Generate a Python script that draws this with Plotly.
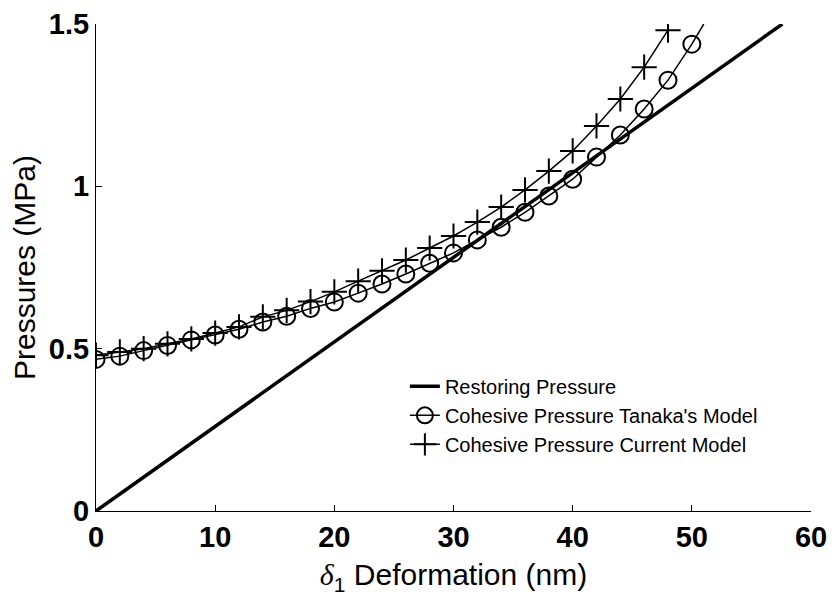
import plotly.graph_objects as go

# Data
restoring_x = [0, 57.6]
restoring_y = [0, 1.5]

tanaka_x = [0, 2, 4, 6, 8, 10, 12, 14, 16, 18, 20, 22, 24, 26, 28, 30, 32, 34, 36, 38, 40, 42, 44, 46, 48, 50, 51]
tanaka_y = [0.467, 0.477, 0.494, 0.510, 0.527, 0.542, 0.560, 0.582, 0.600, 0.624, 0.644, 0.671, 0.699, 0.730,
            0.763, 0.795, 0.835, 0.874, 0.920, 0.970, 1.022, 1.090, 1.158, 1.238, 1.327, 1.438, 1.500]

current_x = [0, 2, 4, 6, 8, 10, 12, 14, 16, 18, 20, 22, 24, 26, 28, 30, 32, 34, 36, 38, 40, 42, 44, 46, 48]
current_y = [0.480, 0.490, 0.500, 0.515, 0.530, 0.548, 0.567, 0.598, 0.618, 0.645, 0.675, 0.708, 0.740, 0.773,
             0.810, 0.847, 0.890, 0.936, 0.989, 1.047, 1.109, 1.186, 1.269, 1.367, 1.481]

x_ticks = [0, 10, 20, 30, 40, 50, 60]
y_ticks = [0, 0.5, 1, 1.5]
y_tick_text = ["0", "0.5", "1", "1.5"]

FONT = "Liberation Sans, Arial, sans-serif"

fig = go.Figure()

fig.add_trace(go.Scatter(
    x=restoring_x, y=restoring_y, mode="lines", name="Restoring Pressure",
    line=dict(color="black", width=3.5),
))

tanaka_sizes = [17] * (len(tanaka_x) - 1) + [0]
fig.add_trace(go.Scatter(
    x=tanaka_x, y=tanaka_y, mode="lines+markers", name="Cohesive Pressure Tanaka's Model",
    line=dict(color="black", width=1.5),
    marker=dict(symbol="circle-open", size=tanaka_sizes, color="black", opacity=1,
                line=dict(width=2, color="black")),
))

fig.add_trace(go.Scatter(
    x=current_x, y=current_y, mode="lines+markers", name="Cohesive Pressure Current Model",
    line=dict(color="black", width=1.5),
    marker=dict(symbol="cross-thin-open", size=18, color="black", line=dict(width=2, color="black")),
))

fig.update_layout(
    width=833, height=599,
    margin=dict(l=96, r=22, t=24, b=88, autoexpand=False),
    paper_bgcolor="white", plot_bgcolor="white",
    font=dict(family=FONT, color="black"),
    showlegend=True,
    legend=dict(
        x=0.432, y=0.296, xanchor="left", yanchor="top",
        bgcolor="rgba(0,0,0,0)", borderwidth=0,
        font=dict(family=FONT, size=20, color="black"),
        tracegroupgap=0, itemwidth=30,
    ),
    xaxis=dict(
        range=[0, 60], tickvals=x_ticks, ticktext=[f"<b>{v}</b>" for v in x_ticks],
        automargin=False,
        showgrid=False, zeroline=False, showline=True, linecolor="black", linewidth=1.2,
        ticks="inside", ticklen=6, tickcolor="black", tickwidth=1,
        tickfont=dict(family=FONT, size=29, color="black"),
        title=dict(
            text="<span style='font-family:Liberation Serif;font-style:italic'>δ</span><sub>1</sub> Deformation (nm)",
            font=dict(family=FONT, size=30, color="black"), standoff=12,
        ),
    ),
    yaxis=dict(
        range=[0, 1.5], tickvals=y_ticks, ticktext=[f"<b>{t}</b>" for t in y_tick_text],
        automargin=False,
        showgrid=False, zeroline=False, showline=True, linecolor="black", linewidth=1.2,
        ticks="inside", ticklen=6, tickcolor="black", tickwidth=1,
        tickfont=dict(family=FONT, size=29, color="black"),
        title=dict(text="Pressures (MPa)", font=dict(family=FONT, size=30, color="black"), standoff=4),
    ),
)

fig.write_html("out.html")
